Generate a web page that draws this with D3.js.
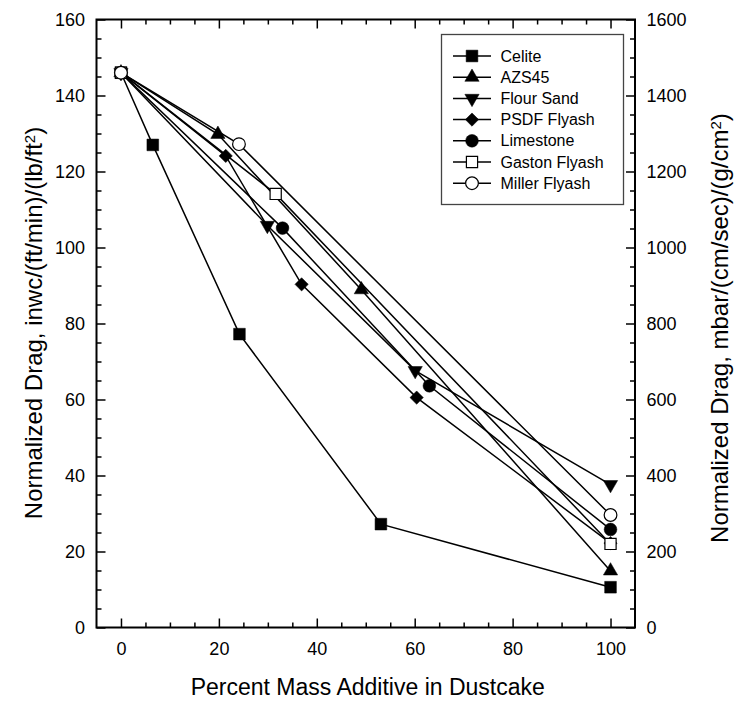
<!DOCTYPE html>
<html lang="en">
<head>
    <title>Normalized Drag vs Additive</title>
    <script src="https://d3js.org/d3.v7.min.js"></script>
    <style>
        body {
            margin: 0;
            background: white;
        }

        svg text {
            font-family: Arial, "Liberation Sans", sans-serif;
            fill: black;
        }

        .frame line,
        .frame path {
            stroke: black;
        }

        .series-line {
            fill: none;
            stroke: black;
            stroke-width: 1.5;
        }
    </style>
</head>
<body>
<div id="chart"></div>

<script>
    // series data (x = % additive, y = drag in inwc/(ft/min)/(lb/ft2))
    var seriesNames = ["Celite", "AZS45", "Flour Sand", "PSDF Flyash", "Limestone", "Gaston Flyash", "Miller Flyash"];

    var celiteX = [0, 6.5, 24.2, 53.1, 100];
    var celiteY = [146, 127, 77.2, 27.2, 10.6];

    var azsX = [0, 19.8, 49.1, 100];
    var azsY = [146, 129.8, 88.9, 14.9];

    var flourX = [0, 29.9, 60.1, 100];
    var flourY = [146, 105.8, 67.6, 37.6];

    var psdfX = [0, 21.4, 36.9, 60.4, 100];
    var psdfY = [146, 124.1, 90.3, 60.5, 22.2];

    var limeX = [0, 33.0, 63.0, 100];
    var limeY = [146, 105.1, 63.6, 25.8];

    var gastonX = [0, 31.6, 100];
    var gastonY = [146, 114.1, 22.0];

    var millerX = [0, 24.1, 100];
    var millerY = [146, 127.2, 29.6];

    var xTicks = [0, 20, 40, 60, 80, 100];
    var yTicks = [0, 20, 40, 60, 80, 100, 120, 140, 160];
    var y2Ticks = [0, 200, 400, 600, 800, 1000, 1200, 1400, 1600];

    var w = 738;
    var h = 702;
    var padLeft = 96.5, padRight = 635, padTop = 19.5, padBottom = 627.5;

    var svg = d3.select("#chart")
        .append("svg")
        .attr("width", w)
        .attr("height", h);

    var xScale = d3.scaleLinear().domain([-5, 105]).range([padLeft, padRight]);
    var yScale = d3.scaleLinear().domain([0, 160]).range([padBottom, padTop]);
    var y2Scale = d3.scaleLinear().domain([0, 1600]).range([padBottom, padTop]);

    var seriesX = [celiteX, azsX, flourX, psdfX, limeX, gastonX, millerX];
    var seriesY = [celiteY, azsY, flourY, psdfY, limeY, gastonY, millerY];

    // marker style per series: symbol, fill, size, rotation
    var markers = [
        { type: d3.symbolSquare, fill: "black", size: 137, rot: 0 },
        { type: d3.symbolTriangle, fill: "black", size: 88, rot: 0 },
        { type: d3.symbolTriangle, fill: "black", size: 88, rot: 180 },
        { type: d3.symbolSquare, fill: "black", size: 88, rot: 45 },
        { type: d3.symbolCircle, fill: "black", size: 127, rot: 0 },
        { type: d3.symbolSquare, fill: "white", size: 125, rot: 0 },
        { type: d3.symbolCircle, fill: "white", size: 127, rot: 0 }
    ];

    function drawMarker(g, m, cx, cy) {
        g.append("path")
            .attr("d", d3.symbol().type(m.type).size(m.size)())
            .attr("transform", "translate(" + cx + "," + cy + ") rotate(" + m.rot + ")")
            .attr("fill", m.fill)
            .attr("stroke", "black")
            .attr("stroke-width", m.fill === "white" ? 1.2 : 0.5);
    }

    // ---- axes (ticks point inward on all four sides) ----
    var minorX = d3.range(0, 101, 5).filter(v => v % 20 !== 0);
    var minorY = d3.range(0, 161, 5).filter(v => v % 20 !== 0);
    var minorY2 = d3.range(0, 1601, 50).filter(v => v % 200 !== 0);

    function styleAxis(g) {
        g.select(".domain").remove();
        g.selectAll(".tick line").attr("stroke-width", 1.5);
        g.selectAll(".tick text").style("font-size", "18px");
    }

    var axes = svg.append("g").attr("class", "frame");

    axes.append("g")
        .attr("transform", "translate(0," + padBottom + ")")
        .call(d3.axisBottom(xScale).tickValues(xTicks).tickSize(-9).tickPadding(14.5))
        .call(styleAxis);
    axes.append("g")
        .attr("transform", "translate(0," + padBottom + ")")
        .call(d3.axisBottom(xScale).tickValues(minorX).tickSize(-5).tickFormat(""))
        .call(styleAxis);
    axes.append("g")
        .attr("transform", "translate(0," + padTop + ")")
        .call(d3.axisTop(xScale).tickValues(xTicks).tickSize(-9).tickFormat(""))
        .call(styleAxis);
    axes.append("g")
        .attr("transform", "translate(0," + padTop + ")")
        .call(d3.axisTop(xScale).tickValues(minorX).tickSize(-5).tickFormat(""))
        .call(styleAxis);

    axes.append("g")
        .attr("transform", "translate(" + padLeft + ",0)")
        .call(d3.axisLeft(yScale).tickValues(yTicks).tickSize(-9).tickPadding(11.5))
        .call(styleAxis);
    axes.append("g")
        .attr("transform", "translate(" + padLeft + ",0)")
        .call(d3.axisLeft(yScale).tickValues(minorY).tickSize(-5).tickFormat(""))
        .call(styleAxis);

    axes.append("g")
        .attr("transform", "translate(" + padRight + ",0)")
        .call(d3.axisRight(y2Scale).tickValues(y2Ticks).tickSize(-9).tickPadding(11.5).tickFormat(d3.format("d")))
        .call(styleAxis);
    axes.append("g")
        .attr("transform", "translate(" + padRight + ",0)")
        .call(d3.axisRight(y2Scale).tickValues(minorY2).tickSize(-5).tickFormat(""))
        .call(styleAxis);

    axes.append("rect")
        .attr("x", padLeft)
        .attr("y", padTop)
        .attr("width", padRight - padLeft)
        .attr("height", padBottom - padTop)
        .attr("fill", "none")
        .attr("stroke", "black")
        .attr("stroke-width", 2);

    // ---- axis titles ----
    svg.append("text")
        .attr("x", (padLeft + padRight) / 2 + 2)
        .attr("y", 695)
        .attr("text-anchor", "middle")
        .style("font-size", "23px")
        .text("Percent Mass Additive in Dustcake");

    var yTitle = svg.append("text")
        .attr("transform", "translate(42,323) rotate(-90)")
        .attr("text-anchor", "middle")
        .style("font-size", "24px");
    yTitle.append("tspan").text("Normalized Drag, inwc/(ft/min)/(lb/ft");
    yTitle.append("tspan").attr("dy", "-0.5em").style("font-size", "15px").text("2");
    yTitle.append("tspan").attr("dy", "0.33em").text(")");

    var y2Title = svg.append("text")
        .attr("transform", "translate(728,328) rotate(-90)")
        .attr("text-anchor", "middle")
        .style("font-size", "24px");
    y2Title.append("tspan").text("Normalized Drag, mbar/(cm/sec)/(g/cm");
    y2Title.append("tspan").attr("dy", "-0.5em").style("font-size", "15px").text("2");
    y2Title.append("tspan").attr("dy", "0.33em").text(")");

    // ---- series ----
    var line = d3.line()
        .x(d => xScale(d[0]))
        .y(d => yScale(d[1]));

    var plot = svg.append("g");
    seriesNames.forEach((name, i) => {
        var pts = seriesX[i].map((x, j) => [x, seriesY[i][j]]);
        plot.append("path")
            .datum(pts)
            .attr("class", "series-line")
            .attr("d", line);
    });
    seriesNames.forEach((name, i) => {
        seriesX[i].forEach((x, j) => {
            drawMarker(plot, markers[i], xScale(x), yScale(seriesY[i][j]));
        });
    });

    // ---- legend ----
    var legend = svg.append("g");
    legend.append("rect")
        .attr("x", 441.5)
        .attr("y", 34.5)
        .attr("width", 182)
        .attr("height", 170)
        .attr("fill", "white")
        .attr("stroke", "#444")
        .attr("stroke-width", 1.3);

    seriesNames.forEach((name, i) => {
        var row = legend.append("g")
            .attr("transform", "translate(0," + (56 + i * 21.2) + ")");
        row.append("line")
            .attr("x1", 453)
            .attr("x2", 491)
            .attr("stroke", "black")
            .attr("stroke-width", 1.5);
        drawMarker(row, markers[i], 472, 0);
        row.append("text")
            .attr("x", 500.5)
            .attr("y", 5.5)
            .style("font-size", "16px")
            .text(name);
    });
</script>
</body>
</html>
